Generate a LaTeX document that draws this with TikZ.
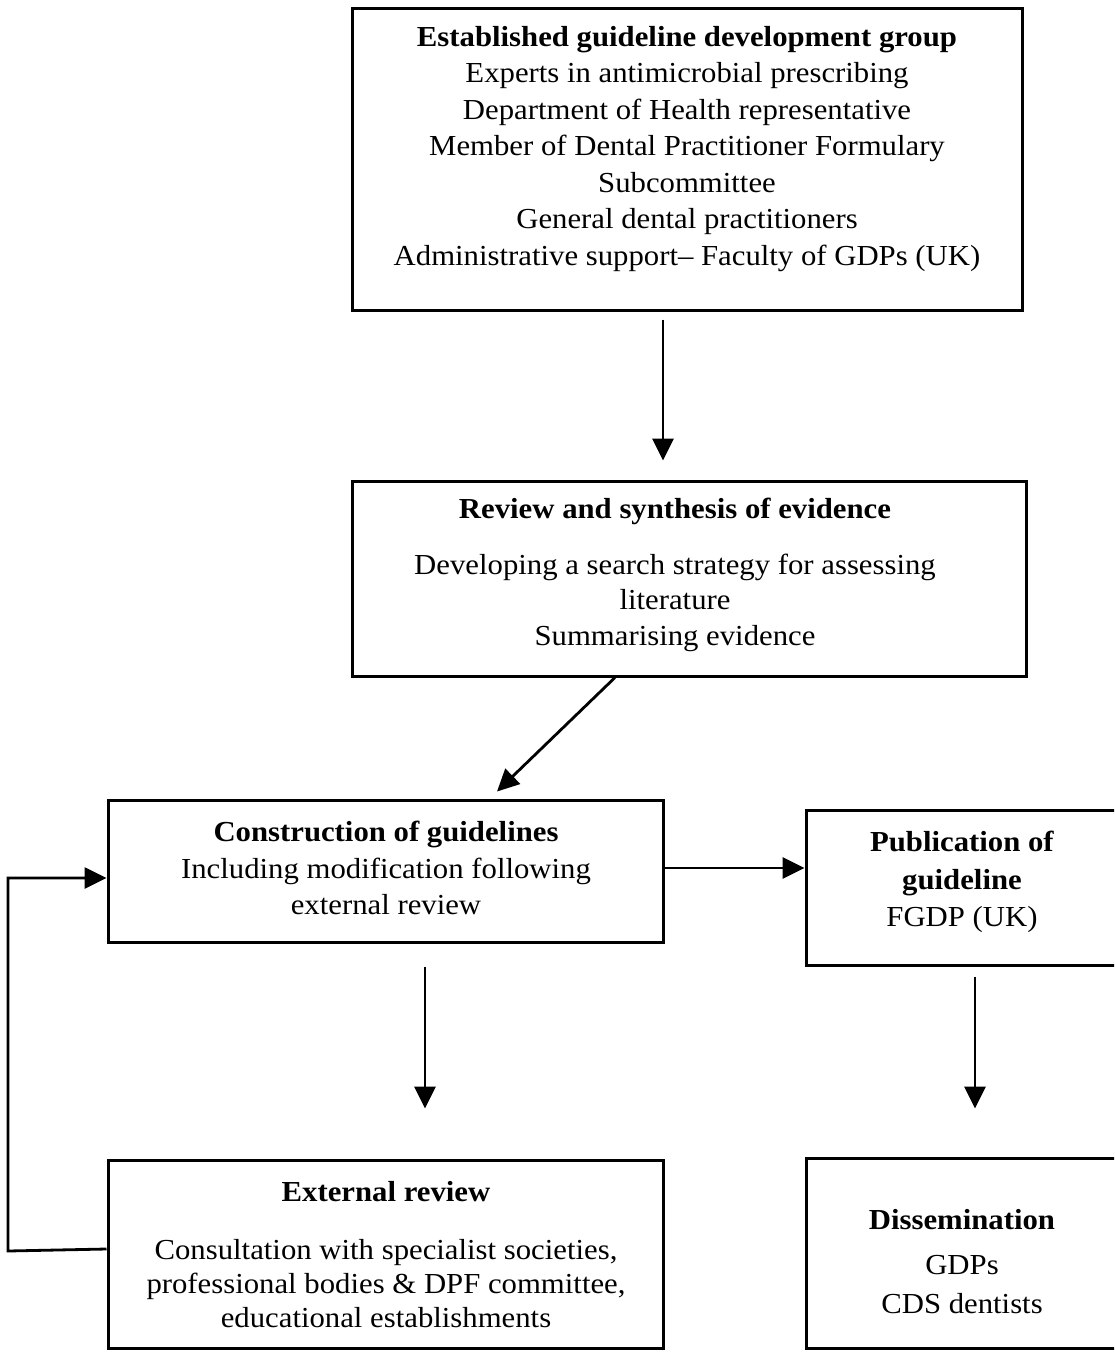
\documentclass[tikz,border=0pt]{standalone}
\usepackage{fontspec}
\setmainfont[FakeStretch=1.06]{Liberation Serif}
\usetikzlibrary{arrows.meta,calc}
\begin{document}
\begin{tikzpicture}[x=1pt,y=-1pt,
  box/.style={draw,line width=3pt,rectangle,inner sep=0pt},
  txt/.style={align=center,inner sep=0pt,anchor=north,font=\fontsize{29}{36.5}\selectfont},
  arr/.style={line width=2.8pt,-{Triangle[length=22pt,width=21pt]}}]
\clip (0,0) rectangle (1114,1352);
\fill[white] (0,0) rectangle (1114,1352);
% boxes
\node[box,minimum width=670,minimum height=302] (b1) at (687,159) {};
\node[box,minimum width=674,minimum height=195] (b2) at (689,578.5) {};
\node[box,minimum width=555,minimum height=142] (b3) at (385.5,871) {};
\node[box,minimum width=324,minimum height=155] (b4) at (968,887.5) {};
\node[box,minimum width=555,minimum height=188] (b5) at (385.5,1254) {};
\node[box,minimum width=324,minimum height=190] (b6) at (968,1253) {};
% texts
\node[txt] (t1) at (687,26) {\textbf{Established guideline development group}\\
Experts in antimicrobial prescribing\\
Department of Health representative\\
Member of Dental Practitioner Formulary\\
Subcommittee\\
General dental practitioners\\
Administrative support-- Faculty of GDPs (UK)};
\node[txt,font=\fontsize{29}{35.5}\selectfont] (t2) at (675,498) {\textbf{Review and synthesis of evidence}\\[20pt]
Developing a search strategy for assessing\\
literature\\
Summarising evidence};
\node[txt] (t3) at (386,821) {\textbf{Construction of guidelines}\\
Including modification following\\
external review};
\node[txt,font=\fontsize{29}{37.5}\selectfont] (t4) at (962,831) {\textbf{Publication of}\\
\textbf{guideline}\\
FGDP (UK)};
\node[txt,font=\fontsize{29}{34}\selectfont] (t5) at (386,1181) {\textbf{External review}\\[24pt]
Consultation with specialist societies,\\
professional bodies \& DPF committee,\\
educational establishments};
\node[txt,font=\fontsize{29}{39}\selectfont] (t6) at (962,1209) {\textbf{Dissemination}\\[6pt]
GDPs\\
CDS dentists};
% connectors
\draw[arr] ([xshift=-24pt,yshift=-8pt]b1.south) -- ([xshift=-26pt,yshift=19pt]b2.north);
\draw[arr] ([xshift=-74pt]b2.south) -- ([xshift=111.5pt,yshift=7pt]b3.north);
\draw[arr] ([yshift=3pt]b3.east) -- ([yshift=19.5pt]b4.west);
\draw[arr] ([xshift=39.5pt,yshift=-23pt]b3.south) -- ([xshift=39.5pt,yshift=50pt]b5.north);
\draw[arr] ([xshift=7pt,yshift=-10pt]b4.south) -- ([xshift=7pt,yshift=48pt]b6.north);
\coordinate (fbot) at (8,1251);
\draw[arr] ([yshift=5pt]b5.west) -- (fbot) |- ([yshift=-7pt]b3.west);
\end{tikzpicture}
\end{document}
